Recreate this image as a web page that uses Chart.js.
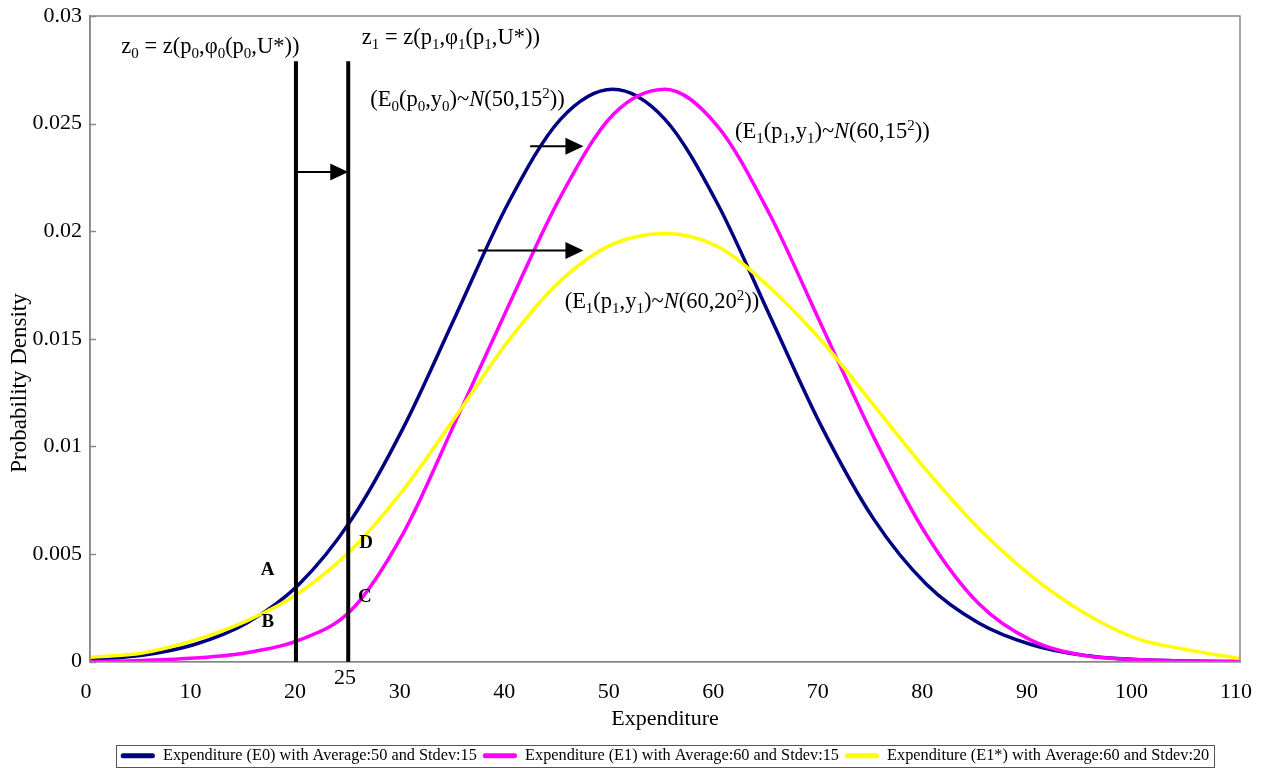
<!DOCTYPE html>
<html lang="en">
<head>
  <meta charset="UTF-8">
  <title>Expenditure distributions</title>
  <script src="https://cdn.jsdelivr.net/npm/chart.js"></script>
  <style>
    html, body { margin: 0; padding: 0; background: #fff; }
    .wrap { width: 1281px; height: 770px; position: relative; }
  </style>
</head>
<body>
  <div class="wrap"><canvas id="chart"></canvas></div>

  <script>
    // values, every 5 units of expenditure
    const expenditure = [0, 5, 10, 15, 20, 25, 30, 35, 40, 45, 50, 55, 60, 65, 70, 75, 80, 85, 90, 95, 100, 105, 110];
    const densityE0 = [0.0001, 0.0003, 0.0008, 0.0018, 0.0036, 0.0066, 0.0109, 0.0161, 0.0213, 0.0252, 0.0266, 0.0252,
                       0.0213, 0.0161, 0.0109, 0.0066, 0.0036, 0.0018, 0.0008, 0.0003, 0.0001, 0.00003, 0.00001];
    const densityE1 = [0.00001, 0.00006, 0.00017, 0.00042, 0.0010, 0.0024, 0.0060, 0.0112, 0.0165, 0.0216, 0.0254, 0.0266,
                       0.0249, 0.0208, 0.0156, 0.0104, 0.0059, 0.0027, 0.0010, 0.0003, 0.0001, 0.00003, 0.00001];
    const densityE1star = [0.0002, 0.0004, 0.0010, 0.0019, 0.0032, 0.0052, 0.0080, 0.0114, 0.0149, 0.0177, 0.0194, 0.0199,
                           0.0193, 0.0174, 0.0149, 0.0119, 0.0089, 0.0062, 0.0040, 0.0023, 0.0011, 0.00055, 0.00015];
    const seriesNames = [
      'Expenditure (E0) with Average:50 and Stdev:15',
      'Expenditure (E1) with Average:60 and Stdev:15',
      'Expenditure (E1*) with Average:60 and Stdev:20'
    ];
    const seriesColors = ['#000080', '#ff00ff', '#ffff00'];
    const yTitle = 'Probability Density';

    // annotations, in data units
    const zLines = [19.7, 24.7];
    const zLineTop = 0.0279;
    const arrows = [
      { y: 0.02275, from: 19.7, to: 24.7 },
      { y: 0.02395, from: 42.1, to: 47.2 },
      { y: 0.0191, from: 37.1, to: 47.2 }
    ];

    const serif = '"Liberation Serif", "Times New Roman", serif';

    // rich labels: [text, style] with style '', 'sub', 'sup', 'i'
    const notes = [
      { x: 3.0, y: 0.0283, parts: [['z', ''], ['0', 'sub'], [' = z(p', ''], ['0', 'sub'], [',φ', ''], ['0', 'sub'],
                                    ['(p', ''], ['0', 'sub'], [',U*))', '']] },
      { x: 26.0, y: 0.0287, parts: [['z', ''], ['1', 'sub'], [' = z(p', ''], ['1', 'sub'], [',φ', ''], ['1', 'sub'],
                                     ['(p', ''], ['1', 'sub'], [',U*))', '']] },
      { x: 26.8, y: 0.0258, parts: [['(E', ''], ['0', 'sub'], ['(p', ''], ['0', 'sub'], [',y', ''], ['0', 'sub'],
                                     [')~', ''], ['N', 'i'], ['(50,15', ''], ['2', 'sup'], ['))', '']] },
      { x: 61.7, y: 0.02433, parts: [['(E', ''], ['1', 'sub'], ['(p', ''], ['1', 'sub'], [',y', ''], ['1', 'sub'],
                                      [')~', ''], ['N', 'i'], ['(60,15', ''], ['2', 'sup'], ['))', '']] },
      { x: 45.4, y: 0.01642, parts: [['(E', ''], ['1', 'sub'], ['(p', ''], ['1', 'sub'], [',y', ''], ['1', 'sub'],
                                      [')~', ''], ['N', 'i'], ['(60,20', ''], ['2', 'sup'], ['))', '']] }
    ];
    const points = [
      { text: 'A', x: 17.0, y: 0.00405 },
      { text: 'B', x: 17.0, y: 0.00163 },
      { text: 'C', x: 26.3, y: 0.00279 },
      { text: 'D', x: 26.4, y: 0.0053 }
    ];

    function drawRich(ctx, x, y, parts, size) {
      let cx = x;
      parts.forEach(([t, k]) => {
        const small = k === 'sub' || k === 'sup';
        const fs = small ? Math.round(size * 0.65) : size;
        ctx.font = (k === 'i' ? 'italic ' : '') + fs + 'px ' + serif;
        const dy = k === 'sub' ? size * 0.22 : (k === 'sup' ? -size * 0.36 : 0);
        ctx.fillText(t, cx, y + dy);
        cx += ctx.measureText(t).width;
      });
    }

    const legendShift = { x: 45, y: 4 };

    const annotationPlugin = {
      id: 'annotations',
      afterLayout(chart) {
        // the legend sits centred under the whole figure, not the plot;
        // its hit boxes are rebuilt from these edges right after layout
        const lg = chart.legend;
        lg.left += legendShift.x;
        lg.right += legendShift.x;
        lg.top += legendShift.y;
        lg.bottom += legendShift.y;
      },
      afterDatasetsDraw(chart) {
        const { ctx, chartArea: a, scales: { x, y } } = chart;
        ctx.save();

        // plot border and inward y ticks
        ctx.strokeStyle = '#888';
        ctx.lineWidth = 1.5;
        ctx.strokeRect(a.left, a.top, a.right - a.left, a.bottom - a.top);
        y.ticks.forEach(t => {
          const py = Math.round(y.getPixelForValue(t.value)) + 0.5;
          ctx.beginPath();
          ctx.moveTo(a.left, py);
          ctx.lineTo(a.left + 6, py);
          ctx.stroke();
        });

        // vertical z lines
        ctx.strokeStyle = '#000';
        ctx.lineWidth = 4;
        zLines.forEach(v => {
          const px = x.getPixelForValue(v);
          ctx.beginPath();
          ctx.moveTo(px, y.getPixelForValue(0));
          ctx.lineTo(px, y.getPixelForValue(zLineTop));
          ctx.stroke();
        });

        // arrows
        ctx.fillStyle = '#000';
        ctx.lineWidth = 2;
        arrows.forEach(ar => {
          const py = y.getPixelForValue(ar.y);
          const x0 = x.getPixelForValue(ar.from);
          const x1 = x.getPixelForValue(ar.to);
          ctx.beginPath();
          ctx.moveTo(x0, py);
          ctx.lineTo(x1 - 16, py);
          ctx.stroke();
          ctx.beginPath();
          ctx.moveTo(x1, py);
          ctx.lineTo(x1 - 18, py - 8.5);
          ctx.lineTo(x1 - 18, py + 8.5);
          ctx.closePath();
          ctx.fill();
        });

        // formula labels
        ctx.textBaseline = 'alphabetic';
        ctx.textAlign = 'left';
        notes.forEach(n => drawRich(ctx, x.getPixelForValue(n.x), y.getPixelForValue(n.y), n.parts, 22.5));

        // point letters
        ctx.font = 'bold 19px ' + serif;
        ctx.textAlign = 'center';
        points.forEach(p => ctx.fillText(p.text, x.getPixelForValue(p.x), y.getPixelForValue(p.y)));

        // the extra "25" under the second line
        ctx.font = '22px ' + serif;
        ctx.fillText('25', x.getPixelForValue(24.4), y.bottom + 22);

        // y axis title, a little below the middle of the axis as in the original
        ctx.translate(20, 383);
        ctx.rotate(-Math.PI / 2);
        ctx.font = '23px ' + serif;
        ctx.textBaseline = 'middle';
        ctx.fillText(yTitle, 0, 0);

        ctx.restore();
      },
      afterDraw(chart) {
        // frame round the legend
        const boxes = chart.legend.legendHitBoxes;
        if (!boxes || !boxes.length) return;
        const ctx = chart.ctx;
        const left = Math.min(...boxes.map(b => b.left)) - 5;
        const right = Math.max(...boxes.map(b => b.left + b.width)) + 5;
        const top = boxes[0].top - 3;
        const h = boxes[0].height + 6;
        ctx.save();
        ctx.strokeStyle = '#555';
        ctx.lineWidth = 1;
        ctx.strokeRect(Math.round(left) + 0.5, Math.round(top) + 0.5, Math.round(right - left), Math.round(h));
        ctx.restore();
      }
    };

    const series = [densityE0, densityE1, densityE1star];

    new Chart(document.getElementById('chart'), {
      type: 'line',
      data: {
        datasets: series.map((vals, i) => ({
          label: seriesNames[i],
          data: expenditure.map((e, j) => ({ x: e, y: vals[j] })),
          borderColor: seriesColors[i],
          backgroundColor: seriesColors[i],
          borderWidth: 3.5,
          pointRadius: 0,
          cubicInterpolationMode: 'monotone',
          order: 3 - i
        }))
      },
      options: {
        responsive: true,
        maintainAspectRatio: false,
        animation: false,
        layout: { padding: { top: 16, right: 41, bottom: 0, left: 0 } },
        plugins: {
          tooltip: { enabled: false },
          legend: {
            position: 'bottom',
            labels: {
              boxWidth: 34,
              boxHeight: 5,
              padding: 6,
              color: '#000',
              font: { family: serif, size: 16.3 },
              sort: (a, b) => a.datasetIndex - b.datasetIndex,
              generateLabels: chart => Chart.defaults.plugins.legend.labels.generateLabels(chart)
                .map(l => ({ ...l, fillStyle: l.strokeStyle, lineWidth: 0, borderRadius: 2 }))
            }
          }
        },
        scales: {
          x: {
            type: 'linear',
            min: 0,
            max: 110,
            ticks: { stepSize: 10, color: '#000', font: { family: serif, size: 22 }, padding: 17, maxRotation: 0, labelOffset: -4 },
            grid: { display: false, drawTicks: false },
            border: { color: '#888', width: 1.5 },
            title: { display: true, text: 'Expenditure', color: '#000', font: { family: serif, size: 22 }, padding: { top: 6, bottom: 5 } },
            afterFit: s => { s.height = 76; }
          },
          y: {
            min: 0,
            max: 0.03,
            ticks: { stepSize: 0.005, color: '#000', font: { family: serif, size: 22 }, padding: 8,
                     callback: v => String(+v.toFixed(3)) },
            grid: { display: false, drawTicks: false },
            border: { color: '#888', width: 1.5 },
            title: { display: false },
            afterFit: s => { s.width = 90; s.paddingTop = 0; s.paddingBottom = 0; }
          }
        }
      },
      plugins: [annotationPlugin]
    });
  </script>
</body>
</html>
